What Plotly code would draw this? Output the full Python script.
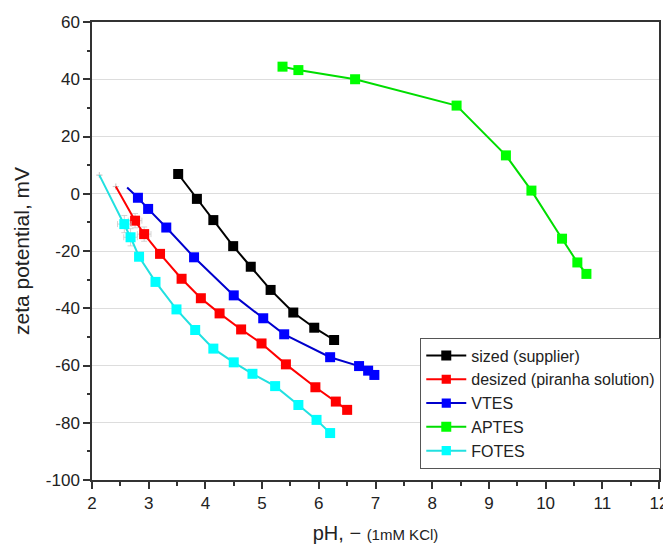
import plotly.graph_objects as go

# ---- data ----
sized_x = [3.52, 3.85, 4.14, 4.49, 4.80, 5.15, 5.55, 5.92, 6.27]
sized_y = [6.9, -1.8, -9.2, -18.3, -25.5, -33.6, -41.5, -46.8, -51.1]

desized_x = [2.42, 2.76, 2.92, 3.20, 3.58, 3.92, 4.25, 4.63, 4.99, 5.42, 5.94, 6.30, 6.50]
desized_y = [2.5, -9.4, -14.1, -21.0, -29.7, -36.5, -41.8, -47.4, -52.3, -59.6, -67.6, -72.6, -75.5]

vtes_x = [2.62, 2.81, 2.99, 3.31, 3.80, 4.50, 5.02, 5.39, 6.20, 6.71, 6.87, 6.98]
vtes_y = [2.2, -1.4, -5.3, -11.8, -22.2, -35.5, -43.5, -49.1, -57.1, -60.2, -61.8, -63.3]

aptes_x = [5.36, 5.64, 6.64, 8.43, 9.30, 9.75, 10.29, 10.56, 10.72]
aptes_y = [44.4, 43.2, 40.0, 30.8, 13.4, 1.1, -15.7, -24.0, -28.0]

fotes_x = [2.13, 2.57, 2.68, 2.83, 3.12, 3.49, 3.82, 4.14, 4.50, 4.83, 5.23, 5.64, 5.96, 6.20]
fotes_y = [6.5, -10.6, -15.2, -22.0, -30.8, -40.4, -47.6, -54.1, -58.9, -62.9, -67.2, -73.8, -79.0, -83.6]

desized_err_x = [0, 0.12, 0.12, 0, 0, 0, 0, 0, 0, 0, 0, 0, 0]
desized_err_y = [0, 2.5, 2.5, 0, 0, 0, 0, 0, 0, 0, 0, 0, 0]
fotes_err_x = [0, 0.12, 0.12, 0, 0, 0, 0, 0, 0, 0, 0, 0, 0, 0]
fotes_err_y = [0, 3.0, 3.0, 0, 0, 0, 0, 0, 0, 0, 0, 0, 0, 0]

x_ticks = list(range(2, 13))
y_ticks = list(range(-100, 61, 20))

FONT = "Liberation Sans, Arial, sans-serif"

def msizes(n, hide_first):
    s = [10] * n
    if hide_first:
        s[0] = 0
    return s

series = [
    ("sized (supplier)", sized_x, sized_y, "#000000", "#000000", False, None, None),
    ("desized (piranha solution)", desized_x, desized_y, "#ff0000", "#ff0000", True, desized_err_x, desized_err_y),
    ("VTES", vtes_x, vtes_y, "#0000ff", "#0000cc", True, None, None),
    ("APTES", aptes_x, aptes_y, "#00ff00", "#00dd00", False, None, None),
    ("FOTES", fotes_x, fotes_y, "#00ffff", "#22e0e0", True, fotes_err_x, fotes_err_y),
]

fig = go.Figure()
for name, xs, ys, mcol, lcol, hide_first, ex, ey in series:
    kw = {}
    if ex is not None:
        kw["error_x"] = dict(type="data", array=ex, visible=True, color="rgba(200,200,200,0.8)", thickness=1, width=3)
        kw["error_y"] = dict(type="data", array=ey, visible=True, color="rgba(200,200,200,0.8)", thickness=1, width=3)
    fig.add_trace(go.Scatter(
        x=xs, y=ys, name=name, mode="lines+markers",
        line=dict(color=lcol, width=2),
        marker=dict(symbol="square", size=msizes(len(xs), hide_first), color=mcol,
                    opacity=1, line=dict(width=0)),
        **kw,
    ))

# page body has an 8px default margin, so the figure is 8px smaller and shifted
fig.update_layout(
    width=663, height=541,
    margin=dict(l=84, r=12, t=14, b=69, autoexpand=False),
    plot_bgcolor="white", paper_bgcolor="white",
    font=dict(family=FONT, color="#222222", size=17),
    showlegend=True,
    legend=dict(
        x=1.004, y=0.025, xanchor="right", yanchor="bottom",
        bgcolor="white", bordercolor="#555555", borderwidth=1,
        font=dict(family=FONT, size=16, color="#222222"),
        tracegroupgap=0, itemwidth=40,
    ),
    xaxis=dict(
        range=[2, 12], tickvals=x_ticks, ticktext=[str(v) for v in x_ticks],
        automargin=False,
        showgrid=False, zeroline=False,
        showline=True, linecolor="#333333", linewidth=1.5, mirror=True,
        ticks="outside", ticklen=7, tickwidth=1.5, tickcolor="#333333",
        minor=dict(dtick=0.5, ticks="outside", ticklen=4, tickwidth=1.5, tickcolor="#333333"),
        tickfont=dict(size=17, family=FONT, color="#222222"),
        title=dict(text="pH, − <span style='font-size:15px'>(1mM KCl)</span>",
                   font=dict(size=20, family=FONT, color="#222222"), standoff=14),
    ),
    yaxis=dict(
        range=[-100, 60], tickvals=y_ticks, ticktext=[str(v) for v in y_ticks],
        automargin=False,
        showgrid=True, gridcolor="#dddddd", gridwidth=1, zeroline=False,
        showline=True, linecolor="#333333", linewidth=1.5, mirror=True,
        ticks="outside", ticklen=7, tickwidth=1.5, tickcolor="#333333",
        minor=dict(dtick=10, ticks="outside", ticklen=3, tickwidth=1.5, tickcolor="#333333", showgrid=False),
        tickfont=dict(size=17, family=FONT, color="#222222"),
        title=dict(text="zeta potential, mV", font=dict(size=21, family=FONT, color="#222222"), standoff=10),
    ),
)

fig.write_html("out.html")
